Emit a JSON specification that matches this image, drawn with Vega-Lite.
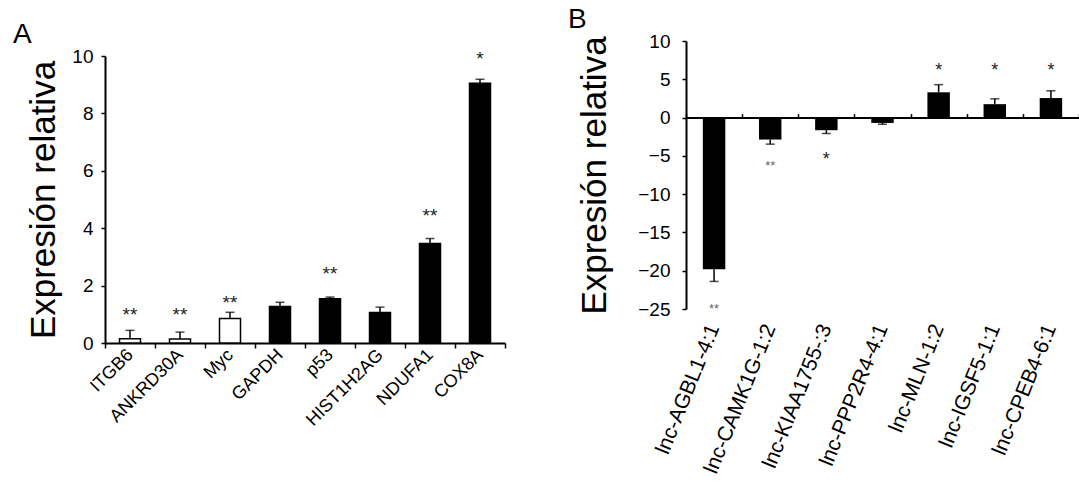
{
  "$schema": "https://vega.github.io/schema/vega-lite/v6.json",
  "background": "white",
  "padding": {"left": 13, "top": 6, "right": 0, "bottom": 0},
  "bounds": "flush",
  "spacing": 181,
  "config": {
    "font": "Liberation Sans",
    "view": {"stroke": null},
    "axis": {"grid": false, "domainColor": "black", "domainWidth": 2, "tickColor": "black", "tickWidth": 1.5, "labelColor": "black", "titleColor": "black", "labelFont": "Liberation Sans", "titleFont": "Liberation Sans", "titleFontWeight": "normal"},
    "title": {"font": "Liberation Sans", "fontWeight": "normal", "color": "black"}
  },
  "hconcat": [
    {
      "width": 400,
      "height": 302,
      "title": {"text": "A", "anchor": "start", "frame": "group", "fontSize": 28, "dx": -92, "offset": -30, "baseline": "alphabetic"},
      "data": {"values": [
        {"gene": "ITGB6", "value": 0.15, "errEnd": 0.44, "sig": "**", "sigY": 1.16, "kind": "open"},
        {"gene": "ANKRD30A", "value": 0.14, "errEnd": 0.38, "sig": "**", "sigY": 1.16, "kind": "open"},
        {"gene": "Myc", "value": 0.85, "errEnd": 1.07, "sig": "**", "sigY": 1.58, "kind": "open"},
        {"gene": "GAPDH", "value": 1.27, "errEnd": 1.42, "sig": "", "sigY": null, "kind": "filled"},
        {"gene": "p53", "value": 1.54, "errEnd": 1.6, "sig": "**", "sigY": 2.57, "kind": "filled"},
        {"gene": "HIST1H2AG", "value": 1.06, "errEnd": 1.25, "sig": "", "sigY": null, "kind": "filled"},
        {"gene": "NDUFA1", "value": 3.47, "errEnd": 3.64, "sig": "**", "sigY": 4.59, "kind": "filled"},
        {"gene": "COX8A", "value": 9.05, "errEnd": 9.19, "sig": "*", "sigY": 10.08, "kind": "filled"}
      ]},
      "encoding": {
        "x": {"field": "gene", "type": "nominal", "sort": null, "scale": {"paddingInner": 0, "paddingOuter": 0},
          "axis": {"title": null, "labelAngle": -45, "labelAlign": "right", "labelBaseline": "middle", "labelFontSize": 18, "labelPadding": 4, "tickSize": 5, "tickBand": "extent", "domainWidth": 2}}
      },
      "layer": [
        {
          "mark": {"type": "bar", "width": {"band": 0.42}, "stroke": "black", "strokeWidth": 1.5},
          "encoding": {
            "y": {"field": "value", "type": "quantitative", "scale": {"domain": [0, 10], "range": [302, 15], "nice": false},
              "axis": {"title": "Expresión relativa", "titleFontSize": 35, "titlePadding": 10, "values": [0, 2, 4, 6, 8, 10], "labelFontSize": 19, "labelPadding": 8, "tickSize": 4}},
            "fill": {"field": "kind", "type": "nominal", "scale": {"domain": ["open", "filled"], "range": ["white", "black"]}, "legend": null}
          }
        },
        {
          "mark": {"type": "rule", "color": "black", "strokeWidth": 1.5},
          "encoding": {"y": {"field": "value", "type": "quantitative"}, "y2": {"field": "errEnd"}}
        },
        {
          "mark": {"type": "tick", "color": "black", "size": 9, "thickness": 1.5},
          "encoding": {"y": {"field": "errEnd", "type": "quantitative"}}
        },
        {
          "transform": [{"filter": "datum.sig != ''"}],
          "mark": {"type": "text", "fontSize": 19, "baseline": "alphabetic", "dy": 11, "color": "#222"},
          "encoding": {"y": {"field": "sigY", "type": "quantitative"}, "text": {"field": "sig"}}
        }
      ]
    },
    {
      "width": 393,
      "height": 302,
      "title": {"text": "B", "anchor": "start", "frame": "group", "fontSize": 28, "dx": -118, "offset": -24, "baseline": "alphabetic"},
      "data": {"values": [
        {"gene": "lnc-AGBL1-4:1", "value": -19.8, "errEnd": -21.4, "sig": "**", "sigY": -24.6},
        {"gene": "lnc-CAMK1G-1:2", "value": -2.87, "errEnd": -3.47, "sig": "**", "sigY": -5.9},
        {"gene": "lnc-KIAA1755-:3", "value": -1.65, "errEnd": -2.08, "sig": "*", "sigY": -4.95},
        {"gene": "lnc-PPP2R4-4:1", "value": -0.7, "errEnd": -0.87, "sig": "", "sigY": null},
        {"gene": "lnc-MLN-1:2", "value": 3.3, "errEnd": 4.3, "sig": "*", "sigY": 6.7},
        {"gene": "lnc-IGSF5-1:1", "value": 1.75, "errEnd": 2.45, "sig": "*", "sigY": 6.7},
        {"gene": "lnc-CPEB4-6:1", "value": 2.55, "errEnd": 3.5, "sig": "*", "sigY": 6.7}
      ]},
      "resolve": {"axis": {"x": "independent"}},
      "layer": [
        {
          "mark": {"type": "bar", "width": {"band": 0.4}, "color": "black"},
          "encoding": {
            "x": {"field": "gene", "type": "nominal", "sort": null, "scale": {"paddingInner": 0, "paddingOuter": 0},
              "axis": {"title": null, "orient": "bottom", "domain": false, "ticks": false, "tickSize": 0, "labelAngle": -68, "labelAlign": "right", "labelBaseline": "middle", "labelFontSize": 21, "labelPadding": 0, "offset": -18}},
            "y": {"field": "value", "type": "quantitative", "scale": {"domain": [-25, 10], "range": [268, 0], "nice": false},
              "axis": {"title": "Expresión relativa", "titleFontSize": 35, "titlePadding": 25, "values": [-25, -20, -15, -10, -5, 0, 5, 10], "labelFontSize": 19, "labelPadding": 12, "tickSize": 4}}
          }
        },
        {
          "mark": {"type": "rule", "color": "black", "strokeWidth": 1.5},
          "encoding": {
            "x": {"field": "gene", "type": "nominal", "sort": null,
              "axis": {"title": null, "orient": "top", "offset": -76.6, "labels": false, "domain": true, "domainWidth": 2, "ticks": true, "tickSize": 4, "tickBand": "extent"}},
            "y": {"field": "value", "type": "quantitative"}, "y2": {"field": "errEnd"}
          }
        },
        {
          "mark": {"type": "tick", "color": "black", "size": 9, "thickness": 1.5},
          "encoding": {"x": {"field": "gene", "type": "nominal", "sort": null, "axis": null}, "y": {"field": "errEnd", "type": "quantitative"}}
        },
        {
          "transform": [{"filter": "datum.sig == '*'"}],
          "mark": {"type": "text", "fontSize": 18, "baseline": "alphabetic", "dy": 10, "color": "#222"},
          "encoding": {"x": {"field": "gene", "type": "nominal", "sort": null, "axis": null}, "y": {"field": "sigY", "type": "quantitative"}, "text": {"field": "sig"}}
        },
        {
          "transform": [{"filter": "datum.sig == '**'"}],
          "mark": {"type": "text", "fontSize": 13, "baseline": "alphabetic", "dy": 7, "color": "#666"},
          "encoding": {"x": {"field": "gene", "type": "nominal", "sort": null, "axis": null}, "y": {"field": "sigY", "type": "quantitative"}, "text": {"field": "sig"}}
        }
      ]
    }
  ]
}
